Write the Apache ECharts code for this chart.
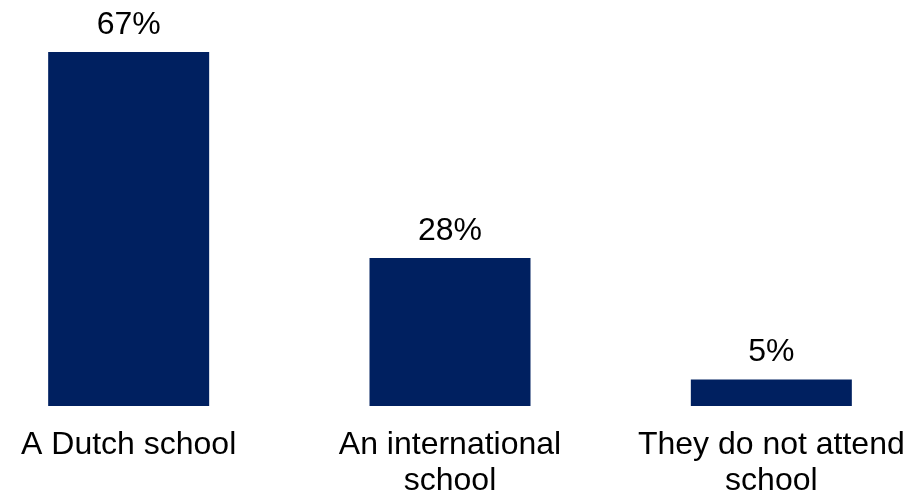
<!DOCTYPE html>
<html>
<head>
<meta charset="utf-8">
<script src="https://cdn.jsdelivr.net/npm/echarts@6/dist/echarts.min.js"></script>
<style>
html,body{margin:0;padding:0;background:#fff;}
#chart{width:922px;height:493px;}
</style>
</head>
<body>
<div id="chart"></div>
<script>
var categories = ["A Dutch school", "An international\nschool", "They do not attend\nschool"];
var values = [67, 28, 5];

var chart = echarts.init(document.getElementById('chart'));
chart.setOption({
  animation: false,
  backgroundColor: '#ffffff',
  textStyle: { fontFamily: 'Liberation Sans, Arial, sans-serif' },
  grid: { left: -32, right: -10, top: 52, bottom: 87, containLabel: false, outerBoundsMode: 'none' },
  xAxis: {
    type: 'category',
    data: categories,
    axisLine: { show: false },
    axisTick: { show: false },
    axisLabel: {
      color: '#000000',
      fontSize: 32,
      lineHeight: 36,
      margin: 21,
      interval: 0,
      hideOverlap: false,
      fontFamily: 'Liberation Sans, Arial, sans-serif'
    }
  },
  yAxis: {
    type: 'value',
    min: 0,
    max: 'dataMax',
    show: false,
    splitLine: { show: false }
  },
  series: [{
    type: 'bar',
    data: values,
    barWidth: 161,
    itemStyle: { color: '#002060' },
    label: {
      show: true,
      position: 'top',
      distance: 11,
      formatter: '{c}%',
      color: '#000000',
      fontSize: 32,
      fontFamily: 'Liberation Sans, Arial, sans-serif'
    }
  }]
});
</script>
</body>
</html>
